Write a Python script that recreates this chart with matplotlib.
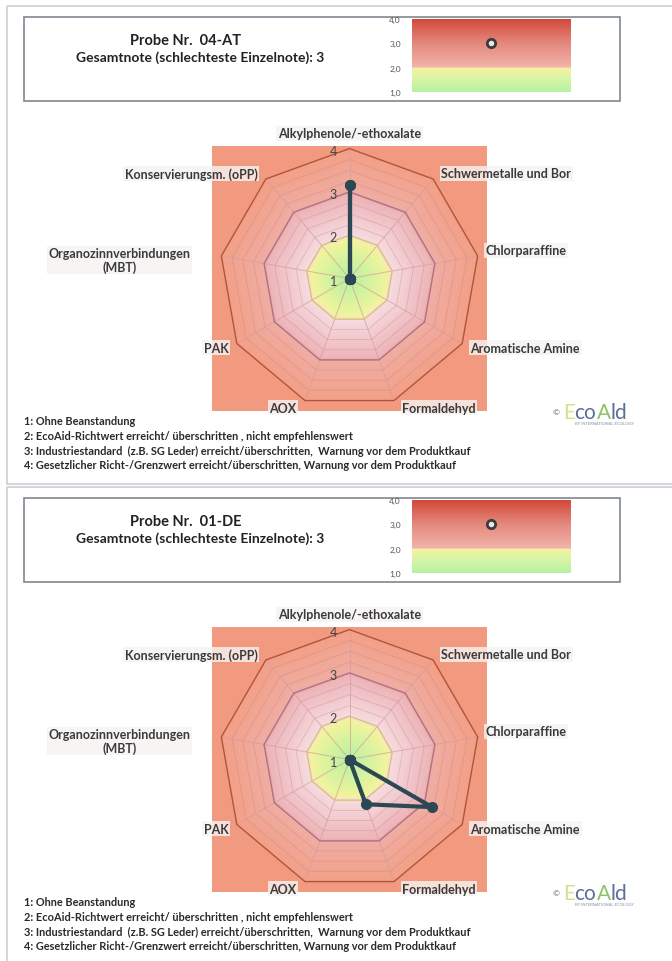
import numpy as np
import matplotlib
matplotlib.use("Agg")
import matplotlib.pyplot as plt
from matplotlib.colors import LinearSegmentedColormap, to_rgb
from matplotlib.patches import Rectangle, Polygon

plt.rcParams['font.family'] = ['Lato', 'DejaVu Sans']

# data
categories = ["Alkylphenole/-ethoxalate", "Schwermetalle und Bor", "Chlorparaffine",
              "Aromatische Amine", "Formaldehyd", "AOX", "PAK",
              "Organozinnverbindungen\n(MBT)", "Konservierungsm. (oPP)"]
samples = ["04-AT", "01-DE"]
grades = [3, 3]
values_a = [3.15, 1, 1, 1, 1, 1, 1, 1, 1]
values_b = [1, 1, 1, 3.2, 2.1, 1, 1, 1, 1]
radar_ticks = [1, 2, 3, 4]
bar_ticks = [1.0, 2.0, 3.0, 4.0]
bar_tick_labels = ["1,0", "2,0", "3,0", "4,0"]
legend_lines = ["1: Ohne Beanstandung",
                "2: EcoAid-Richtwert erreicht/ überschritten , nicht empfehlenswert",
                "3: Industriestandard  (z.B. SG Leder) erreicht/überschritten,  Warnung vor dem Produktkauf",
                "4: Gesetzlicher Richt-/Grenzwert erreicht/überschritten, Warnung vor dem Produktkauf"]

W, H = 672, 962
fig = plt.figure(figsize=(W / 100, H / 100), dpi=100)

# pixel-coordinate layer for frames and text
page = fig.add_axes([0, 0, 1, 1])
page.set_xlim(0, W)
page.set_ylim(H, 0)
page.axis("off")


def px_axes(x0, y0, x1, y1, z=2):
    return fig.add_axes([x0 / W, 1 - y1 / H, (x1 - x0) / W, (y1 - y0) / H], zorder=z)


def mix(c1, c2, t):
    a, b = np.array(to_rgb(c1)), np.array(to_rgb(c2))
    return tuple(a + (b - a) * t)


def ring_color(v):
    if v <= 2:
        return mix("#b2f2a2", "#f6f39c", (v - 1))
    if v <= 3:
        return mix("#f6dde2", "#ecb4b8", (v - 2))
    return mix("#efaea4", "#f2a088", (v - 3))


bar_cmap = LinearSegmentedColormap.from_list(
    "grade", [(0.0, "#b6f2a4"), (0.2, "#dcf5a6"), (0.33, "#f6f1a2"),
              (0.334, "#f2b4aa"), (0.67, "#e4897e"), (1.0, "#d24a3a")])

theta = np.deg2rad(90 - 40 * np.arange(len(categories)))


def poly(vals):
    r = np.asarray(vals, float) - 1
    return r * np.cos(theta), r * np.sin(theta)


def draw_panel(dy, sample, grade, values):
    # page frame
    page.add_patch(Rectangle((7, 7 + dy), W, 478, fill=False, ec="#c9cdd2", lw=1.2))
    # header box
    page.add_patch(Rectangle((24, 18 + dy), 596, 84, facecolor="white", ec="#7f8790", lw=1.2))
    page.text(186, 41 + dy, "Probe Nr.  " + sample, ha="center", va="center",
              fontsize=10.5, fontweight="bold", color="#222222")
    page.text(200, 58 + dy, "Gesamtnote (schlechteste Einzelnote): %d" % grade, ha="center",
              va="center", fontsize=10, fontweight="bold", color="#222222")

    # grade bar
    bx = px_axes(412, 20 + dy, 570, 93 + dy, z=3)
    grad = np.linspace(1, 4, 200).reshape(-1, 1)
    bx.imshow(grad, extent=(0, 1, 1, 4), origin="lower", aspect="auto",
              cmap=bar_cmap, vmin=1, vmax=4)
    bx.plot([0.5], [grade], "o", ms=6, mfc="#e8e8e8", mec="#3a3a3a", mew=2)
    bx.set_xlim(0, 1)
    bx.set_ylim(1, 4)
    bx.set_yticks(bar_ticks)
    bx.set_yticklabels(bar_tick_labels)
    bx.set_xticks([])
    bx.tick_params(axis="y", length=0, labelsize=6, labelcolor="#555555", pad=8)
    for s in bx.spines.values():
        s.set_visible(False)

    # radar
    ax = px_axes(212, 147 + dy, 487, 412 + dy)
    ax.set_xlim(-3.17, 3.17)
    ax.set_ylim(-3.06, 3.06)
    ax.set_facecolor("#f29a80")
    ax.set_xticks([])
    ax.set_yticks([])
    for s in ax.spines.values():
        s.set_visible(False)

    for v in np.arange(4.0, 1.0, -0.05):
        x, y = poly([v] * len(categories))
        ax.add_patch(Polygon(np.c_[x, y], closed=True, facecolor=ring_color(v),
                             edgecolor="none", zorder=1))
    for v in np.arange(2.25, 4.0, 0.25):
        x, y = poly([v] * len(categories))
        ax.add_patch(Polygon(np.c_[x, y], closed=True, fill=False,
                             edgecolor="#c87a78", lw=0.6, alpha=0.35, zorder=2))
    ring_styles = {2: "#d9c46a", 3: "#b3708c", 4: "#b2533e"}
    for v, c in ring_styles.items():
        x, y = poly([v] * len(categories))
        ax.add_patch(Polygon(np.c_[x, y], closed=True, fill=False,
                             edgecolor=c, lw=1.0, zorder=3))
    xo, yo = poly([4] * len(categories))
    for x, y in zip(xo, yo):
        ax.plot([0, x], [0, y], color="#d89a9a", lw=0.7, alpha=0.7, zorder=2)

    for t in radar_ticks:
        ax.text(-0.37, t - 1 - 0.05, str(t), ha="center", va="center", fontsize=9,
                color="#444444", zorder=4)

    x, y = poly(values)
    ax.plot(np.r_[x, x[0]], np.r_[y, y[0]], color="#2c4853", lw=3, marker="o", ms=7,
            solid_joinstyle="round", zorder=5)

    for i, name in enumerate(categories):
        c, s = np.cos(theta[i]), np.sin(theta[i])
        if abs(c) < 0.1:
            ha, off = "center", (0, 11)
        elif c > 0:
            ha, off = "left", (6, -3 if s < 0 else 4)
        else:
            ha, off = "right", (-6, -3 if s < 0 else 4)
        if abs(s) > 0.9 and abs(c) > 0.1:
            off = (off[0], -5)
        if "\n" in name:
            ha, off = "center", (-73, -3)
        ax.annotate(name, (xo[i], yo[i]), xytext=off, textcoords="offset points",
                    ha=ha, va="center", fontsize=9, fontweight="bold", color="#3a3a3a",
                    annotation_clip=False, zorder=6, multialignment="center",
                    linespacing=1.1,
                    bbox=dict(boxstyle="square,pad=0.12", fc="#f6f2f2", ec="none", alpha=0.8))

    for k, line in enumerate(legend_lines):
        page.text(24, 422 + dy + k * 14.5, line, ha="left", va="center", fontsize=7.9,
                  fontweight="bold", color="#2a2a2a", zorder=5)

    # logo
    page.text(556, 413 + dy, "\u00a9", fontsize=6, color="#556070", ha="center", va="center")
    parts = [("E", "#d7e08a", 11), ("co", "#5c6f9c", 23), ("A", "#8cc26a", 13),
             ("ld", "#5c6f9c", 20)]
    xpos = 563
    for txt, col, wd in parts:
        page.text(xpos, 413 + dy, txt, fontsize=15, color=col, ha="left", va="center")
        xpos += wd
    page.text(605, 424 + dy, "BY INTERNATIONAL ECOLOGY", fontsize=3, color="#8090a0",
              ha="center", va="center")


draw_panel(0, samples[0], grades[0], values_a)
draw_panel(481, samples[1], grades[1], values_b)

fig.savefig("out.png", dpi=100)
